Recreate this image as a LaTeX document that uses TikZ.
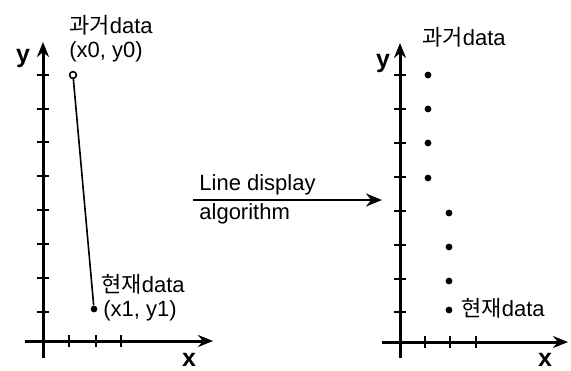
\documentclass[tikz,border=0pt]{standalone}
\usepackage{fontspec}
\setmainfont{Liberation Sans}
\newfontfamily\kr{Noto Sans CJK KR}
\usetikzlibrary{arrows.meta}
\begin{document}
\begin{tikzpicture}[x=0.5pt,y=-0.5pt,
  axis/.style={line width=1.5pt,-{Stealth[length=7.5pt,width=6pt]}},
  tickmark/.style={line width=1.1pt},
  lbl/.style={inner sep=0pt,anchor=west,font=\fontsize{11}{12}\selectfont},
  axlbl/.style={inner sep=0pt,font=\fontsize{12.5}{13}\selectfont\bfseries},
  opendot/.style={circle,draw,line width=0.8pt,fill=white,minimum size=3.4pt,inner sep=0pt},
  fulldot/.style={circle,fill=black,minimum size=3.4pt,inner sep=0pt}]
\useasboundingbox (0,0) rectangle (571,370);
% ---- left graph ----
\coordinate (Lyb) at (43,358);
\coordinate (Lyt) at (43,42);
\coordinate (Lxl) at (25,341);
\coordinate (Lxr) at (213,341);
\draw[axis] (Lyb) -- (Lyt);
\draw[axis] (Lxl) -- (Lxr);
\foreach \yy in {75,109,142,176,210,244,278,312}
  \draw[tickmark] (37,\yy) -- (49,\yy);
\foreach \xx in {69,96,121}
  \draw[tickmark] (\xx,335) -- (\xx,347);
\node[opendot] (p0) at (73,75) {};
\node[fulldot] (p1) at (94,309) {};
\draw[line width=0.8pt] (p0) -- (p1);
\node[lbl] (l0a) at (69,25) {{\kr 과거}data};
\node[lbl] (l0b) at (69,52) {(x0, y0)};
\node[axlbl] (ly) at (23,58) {y};
\node[lbl] (l1a) at (101,284) {{\kr 현재}data};
\node[lbl] (l1b) at (103,311) {(x1, y1)};
\node[axlbl] (lx) at (189,360) {x};
% ---- middle arrow ----
\coordinate (as) at (193,200);
\coordinate (ae) at (382,200);
\draw[line width=1.3pt,-{Stealth[length=8pt,width=6.5pt]}] (as) -- (ae);
\node[lbl] (t1) at (199,185) {Line display};
\node[lbl] (t2) at (199,214) {algorithm};
% ---- right graph ----
\coordinate (Ryb) at (400,358);
\coordinate (Ryt) at (400,43);
\coordinate (Rxl) at (382,342);
\coordinate (Rxr) at (568,342);
\draw[axis] (Ryb) -- (Ryt);
\draw[axis] (Rxl) -- (Rxr);
\foreach \yy in {75,109,143,177,211,245,279,312}
  \draw[tickmark] (394,\yy) -- (406,\yy);
\foreach \xx in {425,450,476}
  \draw[tickmark] (\xx,336) -- (\xx,348);
\foreach \yy/\nm in {75/a,109/b,143/c,178/d}
  \node[fulldot] (q\nm) at (428,\yy) {};
\foreach \yy/\nm in {213/e,247/f,281/g,310/h}
  \node[fulldot] (q\nm) at (449,\yy) {};
\node[lbl] (r0) at (422,37) {{\kr 과거}data};
\node[axlbl] (ry) at (383,63) {y};
\node[lbl] (r1) at (461,308) {{\kr 현재}data};
\node[axlbl] (rx) at (545,360) {x};
\end{tikzpicture}
\end{document}
